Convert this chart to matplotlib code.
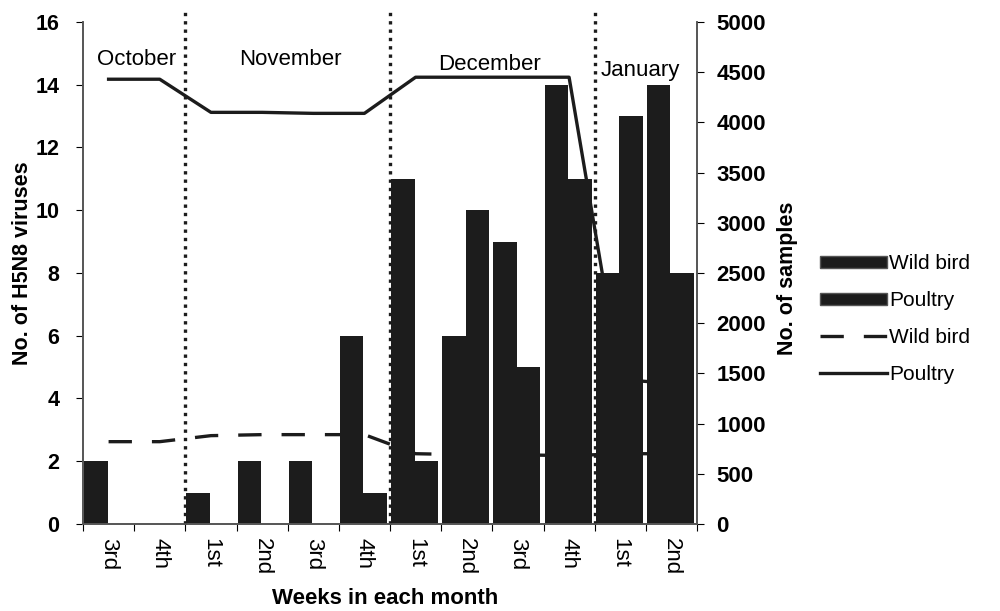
import matplotlib
matplotlib.use("Agg")
import matplotlib.pyplot as plt
import numpy as np
from matplotlib.patches import Patch
from matplotlib.lines import Line2D

plt.rcParams["font.family"] = ["Liberation Sans", "DejaVu Sans"]

weeks = ["3rd", "4th", "1st", "2nd", "3rd", "4th", "1st", "2nd", "3rd", "4th", "1st", "2nd"]
months = ["October", "November", "December", "January"]
month_starts = [0, 2, 6, 10]

# No. of H5N8 viruses (left axis)
virus_wild = [2, 0, 1, 2, 2, 6, 11, 6, 9, 14, 8, 14]
virus_poultry = [0, 0, 0, 0, 0, 1, 2, 10, 5, 11, 13, 8]

# No. of samples (right axis)
samples_wild = [820, 820, 880, 890, 890, 890, 700, 690, 690, 680, 700, 700]
samples_poultry = [4430, 4430, 4100, 4100, 4090, 4090, 4450, 4450, 4450, 4450, 1440, 1400]

x = np.arange(len(weeks))
bar_w = 0.46
black = "#1c1c1c"

fig = plt.figure(figsize=(10, 6.11), dpi=100)
ax = fig.add_axes([0.083, 0.1424, 0.614, 0.8216])
ax2 = ax.twinx()

ax.bar(x - bar_w / 2 - 0.02, virus_wild, bar_w, color=black, zorder=2)
ax.bar(x + bar_w / 2 - 0.02, virus_poultry, bar_w, color=black, zorder=2)

ax2.plot(x, samples_wild, color=black, lw=2.4, dashes=(7, 6), solid_capstyle="butt")
ax2.plot(x, samples_poultry, color=black, lw=2.4)

ax.set_xlim(-0.5, len(weeks) - 0.5)
ax.set_ylim(0, 16)
ax2.set_ylim(0, 5000)
ax.set_yticks(range(0, 17, 2))
ax2.set_yticks(range(0, 5001, 500))

# month separators and labels
for s in month_starts[1:]:
    ax.axvline(s - 0.5, ymin=0, ymax=1.02, color=black, lw=2.4,
               linestyle=(0, (1, 1.5)), clip_on=False, zorder=5)
month_pos = [0.55, 3.55, 7.45, 10.4]
month_y = [14.8, 14.8, 14.65, 14.45]
for m, px, py in zip(months, month_pos, month_y):
    ax.text(px, py, m, ha="center", va="center", fontsize=16)

ax.set_xticks(np.arange(-0.5, len(weeks), 1.0), minor=False)
ax.set_xticklabels([])
ax.set_xticks(x, minor=True)
ax.set_xticklabels(weeks, minor=True, rotation=-90, fontsize=16)
ax.tick_params(axis="x", which="minor", length=0, pad=10)
ax.tick_params(axis="x", which="major", length=5, direction="out")

ax.tick_params(axis="y", labelsize=15.5, length=5, pad=12)
ax2.tick_params(axis="y", labelsize=16, length=5, pad=9)
for lab in ax.get_yticklabels() + ax2.get_yticklabels():
    lab.set_fontweight("bold")

for a in (ax, ax2):
    a.spines["top"].set_visible(False)
    for sp in ("left", "right", "bottom"):
        a.spines[sp].set_color("#555555")
        a.spines[sp].set_linewidth(1.2)

ax.set_ylabel("No. of H5N8 viruses", fontsize=15.5, fontweight="bold")
ax.yaxis.set_label_coords(-0.081, 0.52)
ax2.set_ylabel("No. of samples", fontsize=15.5, fontweight="bold")
ax2.yaxis.set_label_coords(1.13, 0.49)
ax.set_xlabel("Weeks in each month", fontsize=16, fontweight="bold")
ax.xaxis.set_label_coords(0.492, -0.127)

handles = [
    Patch(facecolor=black, edgecolor="#555555", label="Wild bird"),
    Patch(facecolor=black, edgecolor="#555555", label="Poultry"),
    Line2D([], [], color=black, lw=2.4, dashes=(7, 6), label="Wild bird"),
    Line2D([], [], color=black, lw=2.4, label="Poultry"),
]
fig.legend(handles=handles, loc="center left", bbox_to_anchor=(0.81, 0.478),
           frameon=False, fontsize=15, handlelength=3.2, handleheight=0.5,
           handletextpad=0.1, labelspacing=0.85, borderpad=0)

fig.savefig("out.png", dpi=100)
